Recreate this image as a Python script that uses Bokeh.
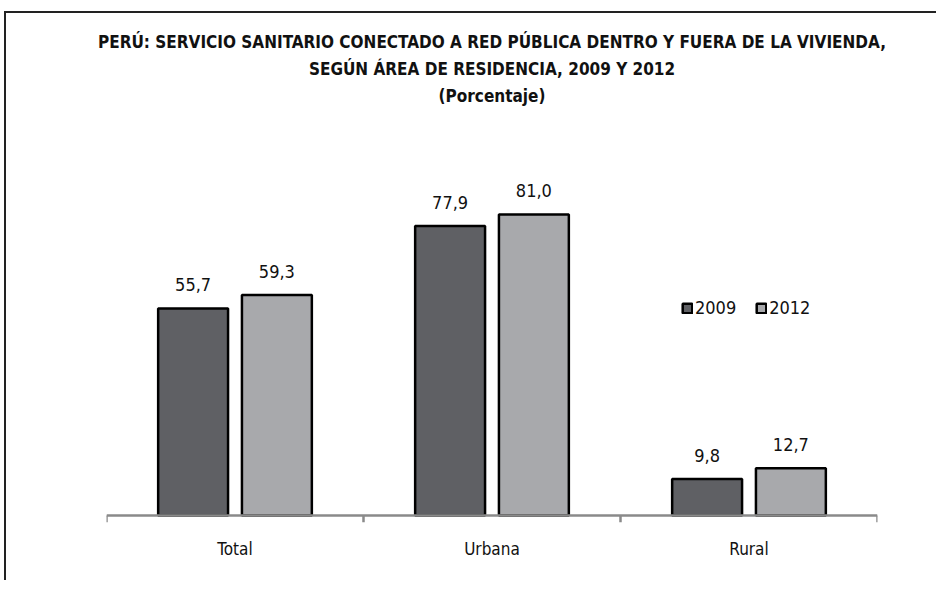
from bokeh.plotting import figure
from bokeh.models import (ColumnDataSource, FactorRange, Range1d, CategoricalAxis,
                          Legend, LegendItem, Title, Span)
from bokeh.transform import dodge
from bokeh.core.properties import value
from bokeh.embed import file_html
from bokeh.resources import INLINE

categories = ["Total", "Urbana", "Rural"]
years = ["2009", "2012"]
v2009 = [55.7, 77.9, 9.8]
v2012 = [59.3, 81.0, 12.7]
title_lines = [
    "PERÚ: SERVICIO SANITARIO CONECTADO A RED PÚBLICA DENTRO Y FUERA DE LA VIVIENDA,",
    "SEGÚN ÁREA DE RESIDENCIA, 2009 Y 2012",
    "(Porcentaje)",
]

FONT = "'DejaVu Sans Condensed', 'Liberation Sans Narrow', sans-serif"
DARK = "#5f6064"
LIGHT = "#a8a9ac"
AXIS = "#8a8a8a"

def fmt(v):
    return f"{v:.1f}".replace(".", ",")

src = ColumnDataSource(dict(
    cat=categories, v2009=v2009, v2012=v2012,
    l2009=[fmt(v) for v in v2009], l2012=[fmt(v) for v in v2012],
))

# boundaries between categories (synthetic coordinates 0..n)
bounds = list(range(len(categories) + 1))
tick_src = ColumnDataSource(dict(x=bounds, y0=[0] * len(bounds), y1=[-1.9] * len(bounds)))

p = figure(width=936, height=580, output_backend="svg", toolbar_location=None,
           x_range=FactorRange(*categories, range_padding=0),
           y_range=Range1d(-1.884, 109.5),
           x_axis_location=None, y_axis_location=None,
           min_border_left=106, min_border_right=59, min_border_top=108, min_border_bottom=58)
p.outline_line_color = None
p.grid.visible = False
p.background_fill_color = "white"
p.border_fill_alpha = 0
# chart frame border (only its left and top edges are visible in the reference)
p.styles = {
    "background-color": "white",
    "background-image": "linear-gradient(#222, #222), linear-gradient(#222, #222)",
    "background-position": "4px 11px, 4px 11px",
    "background-size": "2px 100%, 100% 2px",
    "background-repeat": "no-repeat, no-repeat",
}

off = 0.163
bw = 0.272
r1 = p.vbar(x=dodge("cat", -off, range=p.x_range), top="v2009", width=bw, source=src,
            fill_color=DARK, line_color="black", line_width=2.5)
r2 = p.vbar(x=dodge("cat", off, range=p.x_range), top="v2012", width=bw, source=src,
            fill_color=LIGHT, line_color="black", line_width=2.5)

for sh, col, lab in [(-off, "v2009", "l2009"), (off, "v2012", "l2012")]:
    p.text(x=dodge("cat", sh, range=p.x_range), y=col, text=lab, source=src,
           text_align="center", text_baseline="bottom", y_offset=-17,
           text_font=value(FONT), text_font_size="18px", text_color="#111")

# axis line and boundary ticks
p.add_layout(Span(location=0, dimension="width", line_color=AXIS, line_width=2.5))
p.segment(x0="x", y0="y0", x1="x", y1="y1", source=tick_src, line_color=AXIS, line_width=2.5)

cax = CategoricalAxis()
cax.axis_line_color = None
cax.major_tick_line_color = None
cax.minor_tick_line_color = None
cax.major_label_standoff = 10
cax.major_label_text_font = FONT
cax.major_label_text_font_size = "17px"
cax.major_label_text_color = "#111"
p.add_layout(cax, "below")

for i, line in enumerate(reversed(title_lines)):
    t = Title(text=line, align="center", text_font=FONT, text_font_size="17px",
              text_font_style="bold", text_color="#111", standoff=5)
    p.add_layout(t, "above")

legend = Legend(items=[LegendItem(label=years[0], renderers=[r1]),
                       LegendItem(label=years[1], renderers=[r2])],
                orientation="horizontal", location=(575, 204),
                glyph_width=12, glyph_height=12, label_standoff=2, spacing=19,
                padding=0, margin=0, border_line_color=None, background_fill_alpha=0,
                label_text_font=FONT, label_text_font_size="18px", label_text_color="#111")
p.add_layout(legend, "center")

open("out.html", "w").write(file_html(p, INLINE))
